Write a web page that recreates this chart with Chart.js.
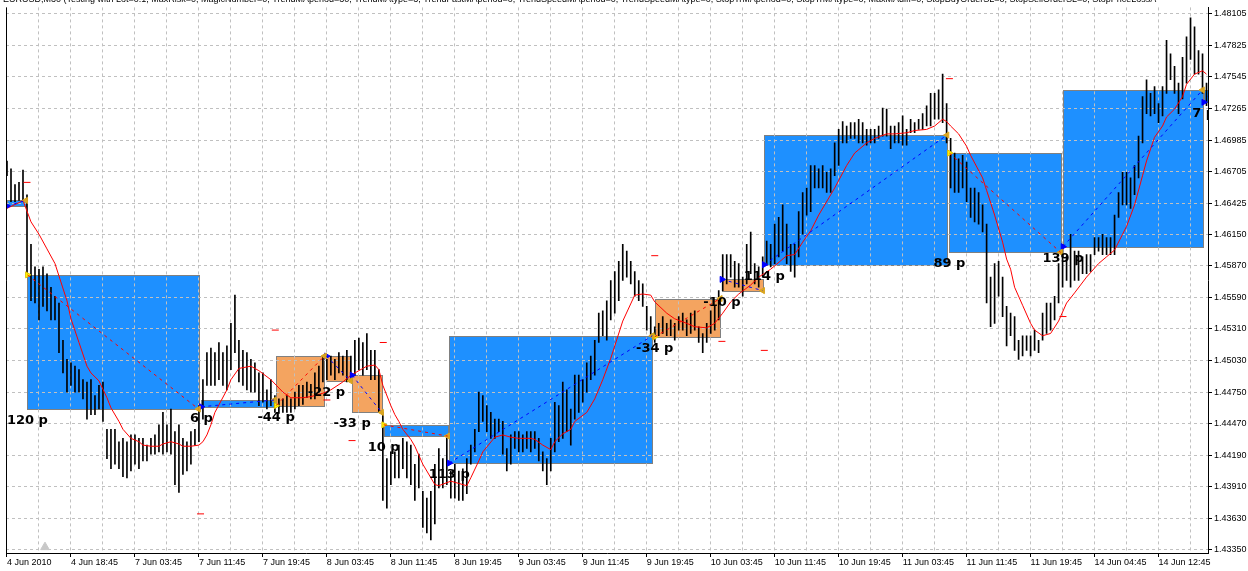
<!DOCTYPE html>
<html>
<head>
<meta charset="utf-8">
<script src="https://cdn.jsdelivr.net/npm/chart.js@4.4.0/dist/chart.umd.min.js"></script>
<style>
  html, body { margin: 0; padding: 0; background: #fff; }
  #chart { display: block; }
</style>
</head>
<body>
<canvas id="chart" width="1248" height="571"></canvas>
<script>
const chartTitle = "EURUSD,M30 (Testing with Lot=0.1; MaxRisk=0; MagicNumber=0; TrendMAperiod=30; TrendMAtype=3; TrendFastMAperiod=0; TrendSpeedMAperiod=0; TrendSpeedMAtype=0; StopTrMAperiod=0; StopTrMAtype=0; MaxMAdiff=0; StopBuyOrderSL=0; StopSellOrderSL=0; StopPriceLossA";

// one label every 16 bars (M30)
const timeLabels = ["4 Jun 2010", "4 Jun 18:45", "7 Jun 03:45", "7 Jun 11:45", "7 Jun 19:45", "8 Jun 03:45",
  "8 Jun 11:45", "8 Jun 19:45", "9 Jun 03:45", "9 Jun 11:45", "9 Jun 19:45", "10 Jun 03:45", "10 Jun 11:45",
  "10 Jun 19:45", "11 Jun 03:45", "11 Jun 11:45", "11 Jun 19:45", "14 Jun 04:45", "14 Jun 12:45"];

const priceTicks = [1.48105, 1.47825, 1.47545, 1.47265, 1.46985, 1.46705, 1.46425, 1.46150, 1.45870,
  1.45590, 1.45310, 1.45030, 1.44750, 1.44470, 1.44190, 1.43910, 1.43630, 1.43350];

const barHighs = [
  1.4680,1.4673,1.4659,1.4661,1.4672,1.4650,1.4606,1.4586,1.4584,1.4586,
  1.4580,1.4568,1.4560,1.4554,1.4521,1.4504,1.4501,1.4498,1.4495,1.4486,
  1.4484,1.4486,1.4472,1.4481,1.4484,1.4442,1.4442,1.4442,1.4431,1.4434,
  1.4431,1.4437,1.4437,1.4434,1.4434,1.4428,1.4434,1.4437,1.4446,1.4457,
  1.4446,1.4460,1.4440,1.4446,1.4434,1.4431,1.4440,1.4442,1.4463,1.4486,
  1.4510,1.4514,1.4510,1.4519,1.4510,1.4516,1.4536,1.4561,1.4521,1.4512,
  1.4510,1.4504,1.4501,1.4492,1.4492,1.4477,1.4486,1.4472,1.4469,1.4469,
  1.4472,1.4469,1.4475,1.4481,1.4481,1.4484,1.4482,1.4492,1.4498,1.4507,
  1.4504,1.4507,1.4504,1.4510,1.4507,1.4512,1.4507,1.4521,1.4523,1.4519,
  1.4527,1.4512,1.4512,1.4495,1.4457,1.4416,1.4422,1.4422,1.4428,1.4434,
  1.4431,1.4428,1.4411,1.4420,1.4387,1.4381,1.4387,1.4411,1.4425,1.4416,
  1.4434,1.4405,1.4411,1.4405,1.4407,1.4416,1.4428,1.4442,1.4475,1.4472,
  1.4463,1.4457,1.4451,1.4451,1.4449,1.4425,1.4437,1.4440,1.4440,1.4437,
  1.4440,1.4440,1.4440,1.4434,1.4422,1.4416,1.4434,1.4466,1.4463,1.4484,
  1.4477,1.4460,1.4490,1.4490,1.4486,1.4501,1.4507,1.4521,1.4545,1.4547,
  1.4556,1.4574,1.4582,1.4591,1.4606,1.4600,1.4591,1.4582,1.4574,1.4571,
  1.4551,1.4542,1.4533,1.4536,1.4542,1.4536,1.4539,1.4536,1.4542,1.4545,
  1.4539,1.4545,1.4547,1.4533,1.4527,1.4536,1.4547,1.4551,1.4565,1.4597,
  1.4597,1.4597,1.4591,1.4589,1.4577,1.4606,1.4617,1.4589,1.4586,1.4595,
  1.4609,1.4606,1.4624,1.4630,1.4641,1.4624,1.4606,1.4606,1.4635,1.4652,
  1.4656,1.4676,1.4676,1.4673,1.4676,1.4670,1.4673,1.4696,1.4708,1.4715,
  1.4711,1.4714,1.4714,1.4717,1.4714,1.4708,1.4708,1.4708,1.4711,1.4727,
  1.4726,1.4711,1.4711,1.4714,1.4720,1.4708,1.4717,1.4714,1.4717,1.4722,
  1.4729,1.4740,1.4740,1.4743,1.4757,1.4731,1.4700,1.4687,1.4682,1.4685,
  1.4679,1.4656,1.4656,1.4652,1.4641,1.4624,1.4577,1.4589,1.4591,1.4577,
  1.4551,1.4545,1.4542,1.4521,1.4525,1.4525,1.4525,1.4530,1.4521,1.4545,
  1.4554,1.4554,1.4560,1.4589,1.4606,1.4595,1.4615,1.4600,1.4600,1.4595,
  1.4597,1.4597,1.4612,1.4612,1.4615,1.4612,1.4612,1.4632,1.4652,1.4670,
  1.4670,1.4665,1.4676,1.4702,1.4737,1.4752,1.4740,1.4746,1.4731,1.4746,
  1.4787,1.4775,1.4764,1.4749,1.4772,1.4790,1.4807,1.4799,1.4778,1.4775,
  1.4749];

const barLows = [
  1.4667,1.4644,1.4644,1.4645,1.4644,1.4580,1.4556,1.4554,1.4539,1.4551,
  1.4547,1.4539,1.4539,1.4510,1.4492,1.4475,1.4481,1.4475,1.4475,1.4469,
  1.4451,1.4455,1.4455,1.4460,1.4449,1.4416,1.4407,1.4411,1.4407,1.4400,
  1.4399,1.4405,1.4411,1.4407,1.4414,1.4414,1.4420,1.4420,1.4422,1.4420,
  1.4422,1.4420,1.4393,1.4386,1.4402,1.4405,1.4411,1.4428,1.4431,1.4451,
  1.4481,1.4481,1.4481,1.4486,1.4481,1.4477,1.4495,1.4510,1.4484,1.4481,
  1.4477,1.4475,1.4475,1.4463,1.4466,1.4460,1.4463,1.4457,1.4456,1.4457,
  1.4457,1.4457,1.4460,1.4463,1.4464,1.4470,1.4469,1.4469,1.4475,1.4484,
  1.4486,1.4490,1.4486,1.4492,1.4490,1.4484,1.4486,1.4490,1.4495,1.4490,
  1.4495,1.4486,1.4486,1.4457,1.4379,1.4372,1.4393,1.4399,1.4399,1.4407,
  1.4399,1.4393,1.4379,1.4390,1.4355,1.4350,1.4344,1.4358,1.4390,1.4390,
  1.4393,1.4381,1.4381,1.4379,1.4379,1.4385,1.4411,1.4422,1.4440,1.4449,
  1.4440,1.4434,1.4434,1.4440,1.4420,1.4405,1.4411,1.4425,1.4422,1.4422,
  1.4425,1.4422,1.4425,1.4414,1.4405,1.4393,1.4405,1.4422,1.4431,1.4434,
  1.4440,1.4428,1.4451,1.4457,1.4466,1.4475,1.4486,1.4490,1.4519,1.4525,
  1.4521,1.4539,1.4545,1.4556,1.4574,1.4577,1.4571,1.4560,1.4556,1.4551,
  1.4530,1.4525,1.4519,1.4525,1.4527,1.4525,1.4525,1.4521,1.4530,1.4530,
  1.4525,1.4527,1.4530,1.4519,1.4510,1.4519,1.4527,1.4530,1.4539,1.4565,
  1.4571,1.4577,1.4568,1.4568,1.4560,1.4571,1.4580,1.4571,1.4568,1.4577,
  1.4589,1.4586,1.4589,1.4595,1.4600,1.4589,1.4582,1.4577,1.4595,1.4615,
  1.4632,1.4635,1.4656,1.4656,1.4656,1.4652,1.4652,1.4667,1.4676,1.4696,
  1.4696,1.4700,1.4700,1.4696,1.4696,1.4694,1.4696,1.4696,1.4700,1.4702,
  1.4702,1.4691,1.4696,1.4696,1.4694,1.4694,1.4705,1.4705,1.4708,1.4708,
  1.4711,1.4711,1.4717,1.4717,1.4714,1.4696,1.4656,1.4652,1.4652,1.4656,
  1.4644,1.4630,1.4626,1.4624,1.4617,1.4554,1.4533,1.4536,1.4560,1.4542,
  1.4516,1.4525,1.4512,1.4504,1.4507,1.4512,1.4507,1.4512,1.4510,1.4521,
  1.4527,1.4530,1.4539,1.4554,1.4568,1.4574,1.4568,1.4574,1.4574,1.4580,
  1.4580,1.4582,1.4597,1.4600,1.4597,1.4597,1.4597,1.4597,1.4630,1.4641,
  1.4641,1.4638,1.4650,1.4665,1.4696,1.4722,1.4720,1.4722,1.4714,1.4720,
  1.4740,1.4752,1.4740,1.4722,1.4735,1.4749,1.4770,1.4757,1.4757,1.4740,
  1.4729];

// red moving average, [bar, price]
const maPoints = [
  [0,1.4638],[3,1.4643],[4,1.4645],[6,1.4626],[8,1.4615],[10,1.4602],[12,1.4589],[15,1.4556],[16,1.4540],
  [18,1.4519],[20,1.4498],[21,1.4492],[23,1.4485],[25,1.4470],[26,1.4461],[28,1.4449],[29,1.4442],
  [31,1.4434],[33,1.4431],[34,1.4428],[36,1.4427],[38,1.4427],[39,1.4429],[41,1.4431],[43,1.4429],
  [44,1.4427],[46,1.4427],[48,1.4428],[49,1.4431],[50,1.4437],[51,1.4446],[52,1.4457],[55,1.4477],
  [56,1.4486],[58,1.4496],[61,1.4498],[63,1.4494],[66,1.4486],[69,1.4475],[71,1.4470],[74,1.4470],
  [76,1.4471],[79,1.4474],[81,1.4477],[84,1.4484],[86,1.4490],[89,1.4496],[90,1.4498],[92,1.4499],
  [93,1.4495],[94,1.4481],[96,1.4463],[97,1.4455],[98,1.4449],[99,1.4442],[101,1.4433],[102,1.4427],
  [104,1.4411],[107,1.4393],[108,1.4392],[111,1.4396],[113,1.4394],[115,1.4392],[116,1.4399],
  [118,1.4414],[119,1.4422],[122,1.4435],[124,1.4437],[126,1.4435],[128,1.4434],[131,1.4434],
  [132,1.4433],[134,1.4428],[136,1.4424],[137,1.4431],[139,1.4438],[141,1.4442],[142,1.4449],
  [145,1.4457],[147,1.4469],[149,1.4486],[151,1.4505],[152,1.4516],[154,1.4538],[157,1.4561],
  [159,1.4562],[161,1.4561],[162,1.4555],[165,1.4545],[167,1.4540],[170,1.4536],[172,1.4533],
  [175,1.4532],[177,1.4536],[179,1.4545],[181,1.4555],[183,1.4562],[186,1.4570],[188,1.4577],
  [191,1.4584],[195,1.4596],[197,1.4597],[199,1.4608],[201,1.4618],[203,1.4632],[206,1.4650],
  [207,1.4656],[210,1.4676],[212,1.4687],[215,1.4696],[217,1.4700],[220,1.4704],[222,1.4704],
  [225,1.4705],[227,1.4707],[230,1.4708],[232,1.4711],[234,1.4717],[235,1.4715],[236,1.4711],
  [238,1.4704],[240,1.4693],[241,1.4685],[244,1.4665],[245,1.4654],[247,1.4632],[249,1.4608],
  [250,1.4593],[251,1.4584],[252,1.4568],[254,1.4552],[256,1.4536],[257,1.4530],[259,1.4525],
  [261,1.4527],[263,1.4538],[265,1.4554],[267,1.4563],[270,1.4577],[273,1.4589],[275,1.4595],
  [277,1.4601],[279,1.4615],[280,1.4622],[282,1.4641],[284,1.4667],[285,1.4680],[287,1.4701],
  [289,1.4711],[290,1.4719],[292,1.4726],[294,1.4737],[295,1.4748],[297,1.4757],[299,1.4760],
  [300,1.4757]];

// trades
const tradeSide = ["buy", "sell", "buy", "sell", "buy", "buy", "sell", "buy", "sell", "buy", "buy", "sell", "buy", "buy"];
const tradeOpenBar = [0, 5.1, 48.6, 67.3, 79.9, 86.3, 94.2, 110.6, 162, 178.8, 189.4, 235.7, 264.1, 299.3];
const tradeCloseBar = [4.7, 47.9, 66.9, 79.4, 85.9, 93.7, 110.2, 161.4, 178.4, 189, 235.1, 263.5, 299, 301.5];
const tradeOpenPrice = [1.4640, 1.4579, 1.4462, 1.4463, 1.4507, 1.4490, 1.4446, 1.4412, 1.4524, 1.4575, 1.4588, 1.4687, 1.4604, 1.4732];
const tradeClosePrice = [1.4645, 1.4460, 1.4468, 1.4507, 1.4485, 1.4457, 1.4436, 1.4525, 1.4558, 1.4565, 1.4703, 1.4599, 1.4743, 1.4743];
const tradePips = [null, 120, 6, -44, -22, -33, 10, 113, -34, -10, 114, 89, 139, 7];

// small red stop/target dashes, [bar, price]
const stopMarks = [[5,1.4661],[48.4,1.4367],[67.1,1.4530],[80,1.4468],[86.3,1.4432],[94.1,1.4519],
  [162,1.4596],[178.8,1.4520],[189.4,1.4512],[235.7,1.4753],[264.1,1.4542]];

const shiftMarker = [9.5, 1.43375];

function isWinner(k) {
  const move = tradeClosePrice[k] - tradeOpenPrice[k];
  return tradeSide[k] === "buy" ? move >= 0 : move <= 0;
}

const tradesPlugin = {
  id: "trades",
  beforeDraw(chart) {
    const { ctx, chartArea, scales: { x, y } } = chart;
    ctx.save();
    ctx.beginPath();
    ctx.rect(chartArea.left, chartArea.top, chartArea.width, chartArea.height);
    ctx.clip();
    tradeOpenBar.forEach((open, k) => {
      const x1 = Math.round(x.getPixelForValue(open)) + 0.5;
      const x2 = Math.round(x.getPixelForValue(tradeCloseBar[k])) + 0.5;
      const yA = y.getPixelForValue(tradeOpenPrice[k]);
      const yB = y.getPixelForValue(tradeClosePrice[k]);
      const top = Math.round(Math.min(yA, yB)) + 0.5;
      const bottom = Math.round(Math.max(yA, yB)) + 0.5;
      ctx.fillStyle = isWinner(k) ? "#1E90FF" : "#F4A460";
      ctx.fillRect(x1, top, x2 - x1, bottom - top);
      ctx.strokeStyle = "#808080";
      ctx.lineWidth = 1;
      ctx.strokeRect(x1, top, x2 - x1, bottom - top);
    });
    ctx.restore();
  },
  afterDatasetsDraw(chart) {
    const { ctx, chartArea, scales: { x, y } } = chart;
    ctx.save();
    ctx.beginPath();
    ctx.rect(chartArea.left, chartArea.top, chartArea.width, chartArea.height);
    ctx.clip();
    tradeOpenBar.forEach((open, k) => {
      ctx.strokeStyle = tradeSide[k] === "buy" ? "#0000FF" : "#FF0000";
      ctx.lineWidth = 1;
      ctx.setLineDash([3, 4]);
      ctx.beginPath();
      ctx.moveTo(x.getPixelForValue(open), y.getPixelForValue(tradeOpenPrice[k]));
      ctx.lineTo(x.getPixelForValue(tradeCloseBar[k]), y.getPixelForValue(tradeClosePrice[k]));
      ctx.stroke();
    });
    ctx.setLineDash([]);
    ctx.font = "bold 13px 'DejaVu Sans'";
    ctx.fillStyle = "#000000";
    ctx.textAlign = "center";
    ctx.textBaseline = "top";
    tradePips.forEach((pips, k) => {
      if (pips === null) return;
      const low = Math.max(y.getPixelForValue(tradeOpenPrice[k]), y.getPixelForValue(tradeClosePrice[k]));
      ctx.fillText(pips + " p", x.getPixelForValue(tradeOpenBar[k]), low + 5);
    });
    ctx.restore();
  },
  afterDraw(chart) {
    const { ctx, chartArea } = chart;
    ctx.save();
    ctx.strokeStyle = "#000000";
    ctx.lineWidth = 1;
    ctx.beginPath();
    ctx.moveTo(chartArea.left + 0.5, chartArea.top);
    ctx.lineTo(chartArea.left + 0.5, chartArea.bottom);
    ctx.stroke();
    ctx.font = "9px 'Liberation Sans'";
    ctx.fillStyle = "#000000";
    ctx.textBaseline = "alphabetic";
    ctx.fillText(chartTitle, 3, 2);
    ctx.restore();
  }
};

const bars = barHighs.map((h, i) => ({ x: i, y: [barLows[i], h] }));
const ma = maPoints.map(([b, v]) => ({ x: b, y: v }));
const buyEntries = [], sellEntries = [], exits = [];
tradeOpenBar.forEach((open, k) => {
  (tradeSide[k] === "buy" ? buyEntries : sellEntries).push({ x: open, y: tradeOpenPrice[k] });
  exits.push({ x: tradeCloseBar[k], y: tradeClosePrice[k] });
});

const tickFont = { family: "'Liberation Sans', Arial, sans-serif", size: 9 };

new Chart(document.getElementById("chart"), {
  type: "bar",
  data: {
    datasets: [
      {
        type: "bar",
        data: bars,
        backgroundColor: "#000000",
        borderWidth: 0,
        barThickness: 1,
        grouped: false,
        order: 5
      },
      {
        type: "line",
        data: ma,
        borderColor: "#FF0000",
        borderWidth: 1,
        pointRadius: 0,
        tension: 0,
        order: 4
      },
      {
        type: "line",
        data: stopMarks.map(([b, v]) => ({ x: b, y: v })),
        showLine: false,
        pointStyle: "line",
        pointRadius: 3.5,
        borderColor: "#FF0000",
        borderWidth: 1,
        order: 3
      },
      {
        type: "line",
        data: buyEntries,
        showLine: false,
        pointStyle: "triangle",
        rotation: 90,
        pointRadius: 3.5,
        backgroundColor: "#0000FF",
        borderColor: "#0000FF",
        borderWidth: 1,
        order: 2
      },
      {
        type: "line",
        data: sellEntries,
        showLine: false,
        pointStyle: "triangle",
        rotation: 90,
        pointRadius: 3.5,
        backgroundColor: "#FFFF00",
        borderColor: "#E0C000",
        borderWidth: 1,
        order: 2
      },
      {
        type: "line",
        data: exits,
        showLine: false,
        pointStyle: "triangle",
        rotation: -90,
        pointRadius: 3.5,
        backgroundColor: "#DAA520",
        borderColor: "#DAA520",
        borderWidth: 1,
        order: 1
      },
      {
        type: "line",
        data: [{ x: shiftMarker[0], y: shiftMarker[1] }],
        showLine: false,
        pointStyle: "triangle",
        pointRadius: 5,
        backgroundColor: "#C8C8C8",
        borderColor: "#C8C8C8",
        order: 6
      }
    ]
  },
  options: {
    responsive: false,
    animation: false,
    devicePixelRatio: 1,
    layout: { padding: { left: 1, top: 0, right: 0, bottom: 0 } },
    plugins: { legend: { display: false }, tooltip: { enabled: false } },
    scales: {
      x: {
        type: "linear",
        offset: false,
        min: -0.25,
        max: 300.37,
        afterFit(scale) { scale.height = 18; },
        afterBuildTicks(scale) {
          const ticks = [];
          for (let b = 0; b <= 296; b += 8) ticks.push({ value: b });
          scale.ticks = ticks;
        },
        ticks: {
          autoSkip: false,
          maxRotation: 0,
          minRotation: 0,
          align: "start",
          padding: 0,
          color: "#000000",
          font: tickFont,
          callback: (value) => (value % 16 === 0 ? timeLabels[value / 16] : "")
        },
        grid: {
          offset: false,
          color: "#C0C0C0",
          tickLength: 4,
          tickColor: (ctx) => (ctx.index % 2 === 0 ? "#000000" : "rgba(0,0,0,0)"),
          tickBorderDash: []
        },
        border: { display: true, color: "#000000", dash: [3, 3] }
      },
      y: {
        type: "linear",
        position: "right",
        min: 1.43323,
        max: 1.48162,
        afterFit(scale) { scale.width = 40; },
        afterBuildTicks(scale) {
          scale.ticks = priceTicks.map((v) => ({ value: v }));
        },
        ticks: {
          padding: 2,
          color: "#000000",
          font: tickFont,
          callback: (value) => Number(value).toFixed(5)
        },
        grid: {
          color: "#C0C0C0",
          tickLength: 4,
          tickColor: "#000000",
          tickBorderDash: []
        },
        border: { display: true, color: "#000000", dash: [3, 3] }
      }
    }
  },
  plugins: [tradesPlugin]
});
</script>
</body>
</html>
